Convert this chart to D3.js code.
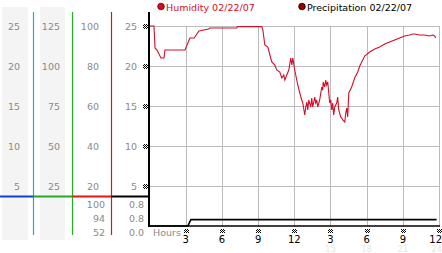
<!DOCTYPE html>
<html>
<head>
<meta charset="utf-8">
<script src="https://cdn.jsdelivr.net/npm/d3@7/dist/d3.min.js"></script>
<style>
  body { margin: 0; background: #fff; }
  text { font-family: "DejaVu Sans", sans-serif; }
</style>
</head>
<body>
<svg width="442" height="253"></svg>
<script>
// data
var humHours = [0, 0.37, 0.46, 0.62, 0.95, 1.2, 1.28, 2.94, 3.35, 3.7, 4.1, 4.9, 5.01, 7.24, 7.3, 9.31, 9.4,
  9.56, 9.81, 9.98, 10.14, 10.39, 10.55, 10.8, 10.97, 11.13, 11.22, 11.38, 11.55, 11.71, 11.8, 11.88,
  12.04, 12.21, 12.29, 12.46, 12.62, 12.71, 12.87, 12.96, 13.04, 13.12, 13.2, 13.37, 13.45, 13.53, 13.62,
  13.7, 13.78, 13.87, 13.95, 14.11, 14.28, 14.36, 14.4, 14.53, 14.61, 14.69, 14.78, 14.86, 14.94, 15.03,
  15.11, 15.19, 15.27, 15.36, 15.52, 15.6, 15.69, 15.85, 15.94, 16.02, 16.19, 16.27, 16.35, 16.43, 16.52,
  16.76, 17.01, 17.26, 17.43, 17.84, 18.25, 18.67, 19.08, 19.5, 19.91, 20.32, 20.74, 21.15, 21.56, 21.81,
  21.98, 22.39, 22.81, 23.22, 23.47, 23.65, 23.72];
var humidity = [100, 100, 89, 88, 84, 84, 88, 88, 94, 94, 97.5, 98.5, 99, 99, 99.7, 99.7, 98,
  90.5, 89.5, 85.5, 82, 80.5, 78, 77, 74, 75.5, 73, 75.5, 78, 84, 80.5, 84,
  78, 73, 70.5, 66.5, 63, 61.5, 55.5, 59.5, 62, 58, 63, 59.5, 64, 59.5, 62,
  64.5, 61.5, 63, 59.5, 63, 69.5, 68, 72, 69.5, 73, 70.5, 72, 66.5, 61.5, 63,
  58, 61.5, 55.5, 59.5, 61.5, 64.5, 58, 54.5, 54, 53, 52, 56.5, 59, 54.5, 66.5,
  69.5, 74, 77, 80, 85, 87, 88.5, 89.5, 91, 92, 93, 94, 95, 95.5, 96,
  96, 95.5, 95.5, 95, 95.5, 95, 94];
var precipHours = [0, 3.18, 3.43, 23.8];
var precip = [0, 0, 0.8, 0.8];

var col1Ticks = [5, 10, 15, 20, 25];
var col2Ticks = [25, 50, 75, 100, 125];
var col3Ticks = [20, 40, 60, 80, 100];
var col4Ticks = [5, 10, 15, 20, 25];
var humStats = ["100", "94", "52"];
var precipStats = ["0.8", "0.8", "0.0"];
var hourTicks = [3, 6, 9, 12, 15, 18, 21, 24];
var hourLabels = ["3", "6", "9", "12", "3", "6", "9", "12"];
var hourFaint = [15, 18, 21, 24];

var svg = d3.select("svg");
var plotTop = 26, plotBottom = 226, plotLeft = 149.5, plotRight = 439;

var x = d3.scaleLinear().domain([0, 24]).range([plotLeft, plotRight]);
var y1 = d3.scaleLinear().domain([0, 25]).range([plotBottom, plotTop]);
var y2 = d3.scaleLinear().domain([0, 125]).range([plotBottom, plotTop]);
var y3 = d3.scaleLinear().domain([0, 100]).range([plotBottom, plotTop]);
var y4 = d3.scaleLinear().domain([0, 25]).range([plotBottom, plotTop]);

var defs = svg.append("defs");
var pat = defs.append("pattern").attr("id", "chk").attr("width", 2).attr("height", 2)
  .attr("patternUnits", "userSpaceOnUse");
pat.append("rect").attr("x", 0).attr("y", 0).attr("width", 1).attr("height", 1).attr("fill", "#000");
pat.append("rect").attr("x", 1).attr("y", 1).attr("width", 1).attr("height", 1).attr("fill", "#000");

// grey column backgrounds
svg.append("rect").attr("x", 2).attr("y", 7).attr("width", 26).attr("height", 233).attr("fill", "#f4f4f4");
svg.append("rect").attr("x", 40).attr("y", 7).attr("width", 25).attr("height", 233).attr("fill", "#f4f4f4");

// column dividers
var dividers = [[33.5, "#22a8cc"], [72.5, "#22b022"], [111.5, "#c02020"]];
svg.selectAll(".div").data(dividers).enter().append("line")
  .attr("x1", d => d[0]).attr("x2", d => d[0]).attr("y1", 12).attr("y2", 235)
  .attr("stroke", d => d[1]).attr("stroke-width", 1.2);

// column labels
function colLabels(ticks, scale, xr) {
  svg.append("g").selectAll("text").data(ticks).enter().append("text")
    .attr("x", xr).attr("y", d => scale(d) + 3.5)
    .attr("text-anchor", "end").attr("font-size", "9.5px").attr("fill", "#8a8a8a")
    .text(d => d);
}
colLabels(col1Ticks, y1, 20);
colLabels(col2Ticks, y2, 60);
colLabels(col3Ticks, y3, 99);
colLabels(col4Ticks, y4, 137);

// stats under the coloured band
svg.append("g").selectAll("text").data(humStats).enter().append("text")
  .attr("x", 105).attr("y", (d, i) => 207.5 + i * 14)
  .attr("text-anchor", "end").attr("font-size", "9.5px").attr("fill", "#8a8a8a").text(d => d);
svg.append("g").selectAll("text").data(precipStats).enter().append("text")
  .attr("x", 144).attr("y", (d, i) => 207.5 + i * 14)
  .attr("text-anchor", "end").attr("font-size", "9.5px").attr("fill", "#8a8a8a").text(d => d);

// coloured band
var band = [[0, 33.5, "#1040d0"], [33.5, 72.5, "#22aa22"], [72.5, 111.5, "#e01818"], [111.5, 149, "#000"]];
svg.selectAll(".band").data(band).enter().append("line")
  .attr("x1", d => d[0]).attr("x2", d => d[1]).attr("y1", 196.5).attr("y2", 196.5)
  .attr("stroke", d => d[2]).attr("stroke-width", 2);

// grid
svg.append("g").selectAll("line").data(col4Ticks).enter().append("line")
  .attr("x1", plotLeft).attr("x2", plotRight)
  .attr("y1", d => Math.round(y4(d)) + 0.5).attr("y2", d => Math.round(y4(d)) + 0.5)
  .attr("stroke", "#bcbcbc");
svg.append("g").selectAll("line").data(hourTicks).enter().append("line")
  .attr("x1", d => Math.round(x(d)) + 0.5).attr("x2", d => Math.round(x(d)) + 0.5)
  .attr("y1", plotTop).attr("y2", plotBottom)
  .attr("stroke", "#bcbcbc");

// axes
svg.append("line").attr("x1", 149).attr("x2", 149).attr("y1", 12).attr("y2", 227)
  .attr("stroke", "#000").attr("stroke-width", 2);
svg.append("line").attr("x1", 148).attr("x2", plotRight + 1).attr("y1", 226).attr("y2", 226)
  .attr("stroke", "#000").attr("stroke-width", 1.5);

// checker tick marks
svg.append("g").selectAll("rect").data(col4Ticks).enter().append("rect")
  .attr("x", 143).attr("y", d => Math.round(y4(d)) - 2).attr("width", 5).attr("height", 5)
  .attr("fill", "url(#chk)");
svg.append("g").selectAll("rect").data(hourTicks).enter().append("rect")
  .attr("x", d => Math.round(x(d)) - 2).attr("y", 229).attr("width", 5).attr("height", 4)
  .attr("fill", "url(#chk)");

// x labels
svg.append("text").attr("x", 153).attr("y", 236).attr("font-size", "9.5px").attr("fill", "#8a8a8a").text("Hours");
svg.append("g").selectAll("text").data(hourTicks).enter().append("text")
  .attr("x", (d, i) => i === hourTicks.length - 1 ? 442 : x(d)).attr("y", 242.5)
  .attr("text-anchor", (d, i) => i === hourTicks.length - 1 ? "end" : "middle")
  .attr("font-size", "10px").attr("fill", "#000")
  .text((d, i) => hourLabels[i]);
svg.append("g").selectAll("text").data(hourFaint).enter().append("text")
  .attr("x", (d, i) => i === hourFaint.length - 1 ? 442 : x(d)).attr("y", 252)
  .attr("text-anchor", (d, i) => i === hourFaint.length - 1 ? "end" : "middle")
  .attr("font-size", "8.5px").attr("fill", "#e6e6e6").text(d => d);

// series
var humLine = d3.line().x((d, i) => x(humHours[i])).y(d => y3(d));
svg.append("path").attr("d", humLine(humidity))
  .attr("fill", "none").attr("stroke", "#d0102a").attr("stroke-width", 1.1);

var precipLine = d3.line().x((d, i) => x(precipHours[i])).y(d => y4(d));
svg.append("path").attr("d", precipLine(precip))
  .attr("fill", "none").attr("stroke", "#000").attr("stroke-width", 1.6);

// legend
svg.append("circle").attr("cx", 161).attr("cy", 6.5).attr("r", 3.3)
  .attr("fill", "#d0102a").attr("stroke", "#600").attr("stroke-width", 0.8);
svg.append("text").attr("x", 166).attr("y", 10.5).attr("font-size", "9.5px").attr("fill", "#d0102a")
  .text("Humidity 02/22/07");
svg.append("circle").attr("cx", 302).attr("cy", 6.5).attr("r", 3.3)
  .attr("fill", "#9a0000").attr("stroke", "#000").attr("stroke-width", 0.8);
svg.append("text").attr("x", 307).attr("y", 10.5).attr("font-size", "9.5px").attr("fill", "#000")
  .text("Precipitation 02/22/07");
</script>
</body>
</html>
